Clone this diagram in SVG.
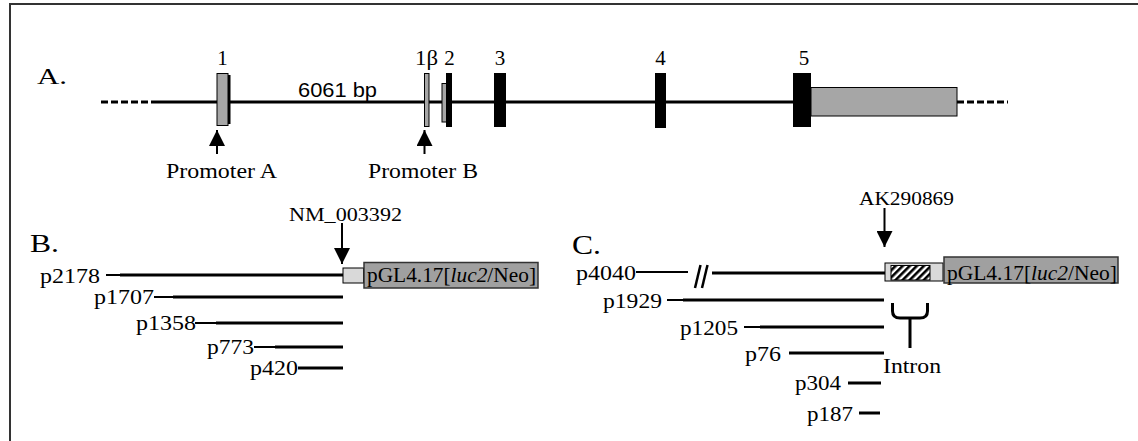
<svg xmlns="http://www.w3.org/2000/svg" width="1138" height="441" viewBox="0 0 1138 441">
<defs>
<style>
.t{font-family:"Liberation Serif","Times New Roman",serif;fill:#000}
.s{font-family:"Liberation Sans",Arial,sans-serif;fill:#000}
.ln{stroke:#000;stroke-width:3;fill:none}
.thin{stroke:#000;stroke-width:2;fill:none}
.blk{fill:#000}
.gry{fill:#a6a6a6;stroke:#000;stroke-width:1}
.lgt{fill:#d9d9d9;stroke:#000;stroke-width:1}
.vec{fill:#a0a0a0;stroke:#333;stroke-width:1.5}
</style>
<marker id="ah" viewBox="0 0 10 10" refX="10" refY="5" markerWidth="16" markerHeight="16" markerUnits="userSpaceOnUse" orient="auto">
<path d="M0,0 L10,5 L0,10 z" fill="#000"/>
</marker>
<pattern id="hatch" patternUnits="userSpaceOnUse" width="5" height="5" patternTransform="rotate(45)">
<rect width="5" height="5" fill="#fff"/>
<rect width="2.6" height="5" fill="#000"/>
</pattern>
</defs>
<rect width="1138" height="441" fill="#fff"/>
<path d="M10,441 V4 H1138" stroke="#333" stroke-width="2" fill="none"/>

<g id="panelA">
<text class="t" x="37" y="84" font-size="23" textLength="30" lengthAdjust="spacingAndGlyphs">A.</text>
<g id="genomic-line">
<line x1="101" y1="102" x2="152" y2="102" class="ln" stroke-dasharray="7,3"/>
<line x1="152" y1="102" x2="793" y2="102" class="ln"/>
<line x1="957" y1="102" x2="1008" y2="102" class="ln" stroke-dasharray="7,3"/>
</g>
<text class="s" x="298" y="96.5" font-size="21" textLength="79" lengthAdjust="spacingAndGlyphs">6061 bp</text>
<g id="exon1">
<rect x="217" y="73.5" width="11" height="52" class="gry"/>
<rect x="228" y="75" width="2.5" height="49" class="blk"/>
<text class="t" x="222.5" y="65" font-size="21" text-anchor="middle">1</text>
</g>
<g id="exon1b">
<rect x="424.5" y="73.5" width="4.5" height="53" class="gry"/>
<text class="t" x="415" y="65" font-size="21" textLength="23" lengthAdjust="spacingAndGlyphs">1β</text>
</g>
<g id="exon2">
<rect x="442" y="83.5" width="5" height="38.5" class="gry"/>
<rect x="446" y="73" width="6" height="54" class="blk"/>
<text class="t" x="449.5" y="65" font-size="21" text-anchor="middle">2</text>
</g>
<g id="exon3">
<rect x="494" y="73" width="12" height="54" class="blk"/>
<text class="t" x="500" y="65" font-size="21" text-anchor="middle">3</text>
</g>
<g id="exon4">
<rect x="655" y="73" width="11" height="55" class="blk"/>
<text class="t" x="660.5" y="65" font-size="21" text-anchor="middle">4</text>
</g>
<g id="exon5">
<rect x="811" y="87.5" width="146" height="28.5" class="gry"/>
<rect x="793" y="73" width="18" height="54" class="blk"/>
<text class="t" x="804" y="65" font-size="21" text-anchor="middle">5</text>
</g>
<g id="promoterA">
<line x1="217" y1="154" x2="217" y2="130" class="thin" marker-end="url(#ah)"/>
<text class="t" x="166" y="178" font-size="22" textLength="111" lengthAdjust="spacingAndGlyphs">Promoter A</text>
</g>
<g id="promoterB">
<line x1="424.5" y1="154" x2="424.5" y2="130" class="thin" marker-end="url(#ah)"/>
<text class="t" x="368" y="178" font-size="22" textLength="110" lengthAdjust="spacingAndGlyphs">Promoter B</text>
</g>
</g>

<g id="panelB">
<text class="t" x="30" y="252" font-size="26" textLength="29" lengthAdjust="spacingAndGlyphs">B.</text>
<g id="NM_003392">
<text class="t" x="289" y="221" font-size="19" textLength="113" lengthAdjust="spacingAndGlyphs">NM_003392</text>
<line x1="342" y1="223" x2="342" y2="264" class="thin" marker-end="url(#ah)"/>
</g>
<g id="vectorB">
<rect x="343" y="268" width="20.5" height="15" class="lgt"/>
<rect x="364" y="262.5" width="174" height="25.5" class="vec"/>
<text class="t" x="367" y="282" font-size="20" textLength="169" lengthAdjust="spacingAndGlyphs">pGL4.17[<tspan font-style="italic">luc2</tspan>/Neo]</text>
</g>
<g id="p2178">
<text class="t" x="40" y="283" font-size="22" textLength="60" lengthAdjust="spacingAndGlyphs">p2178</text>
<line x1="106" y1="275" x2="121" y2="275" class="thin"/>
<line x1="120" y1="275" x2="343" y2="275" class="ln"/>
</g>
<g id="p1707">
<text class="t" x="94" y="304" font-size="22" textLength="60" lengthAdjust="spacingAndGlyphs">p1707</text>
<line x1="154" y1="297" x2="174" y2="297" class="thin"/>
<line x1="173" y1="297" x2="343" y2="297" class="ln"/>
</g>
<g id="p1358">
<text class="t" x="136" y="330" font-size="22" textLength="60" lengthAdjust="spacingAndGlyphs">p1358</text>
<line x1="195" y1="323" x2="217" y2="323" class="thin"/>
<line x1="216" y1="323" x2="343" y2="323" class="ln"/>
</g>
<g id="p773">
<text class="t" x="207" y="354" font-size="22" textLength="47" lengthAdjust="spacingAndGlyphs">p773</text>
<line x1="254" y1="347" x2="276" y2="347" class="thin"/>
<line x1="275" y1="347" x2="343" y2="347" class="ln"/>
</g>
<g id="p420">
<text class="t" x="250" y="375" font-size="22" textLength="48" lengthAdjust="spacingAndGlyphs">p420</text>
<line x1="298" y1="368" x2="343" y2="368" class="ln"/>
</g>
</g>

<g id="panelC">
<text class="t" x="572" y="254" font-size="27" textLength="29" lengthAdjust="spacingAndGlyphs">C.</text>
<g id="AK290869">
<text class="t" x="859" y="205" font-size="19" textLength="95" lengthAdjust="spacingAndGlyphs">AK290869</text>
<line x1="884.5" y1="208" x2="884.5" y2="247" class="thin" marker-end="url(#ah)"/>
</g>
<g id="vectorC">
<rect x="885" y="263" width="58" height="18" class="lgt"/>
<rect x="891" y="265.5" width="39" height="14.5" fill="url(#hatch)" stroke="#000" stroke-width="1"/>
<rect x="944" y="257" width="174" height="26" class="vec"/>
<text class="t" x="947" y="279.5" font-size="20" textLength="170" lengthAdjust="spacingAndGlyphs">pGL4.17[<tspan font-style="italic">luc2</tspan>/Neo]</text>
</g>
<g id="p4040">
<text class="t" x="576" y="280" font-size="22" textLength="60" lengthAdjust="spacingAndGlyphs">p4040</text>
<line x1="636" y1="272" x2="688" y2="272" class="thin"/>
<line x1="695" y1="288" x2="700.5" y2="265" stroke="#000" stroke-width="2.5"/>
<line x1="702" y1="288" x2="707.5" y2="265" stroke="#000" stroke-width="2.5"/>
<line x1="712" y1="273" x2="885" y2="273" class="ln"/>
</g>
<g id="p1929">
<text class="t" x="603" y="308" font-size="22" textLength="59" lengthAdjust="spacingAndGlyphs">p1929</text>
<line x1="667" y1="300" x2="684" y2="300" class="thin"/>
<line x1="683" y1="300" x2="884" y2="300" class="ln"/>
</g>
<g id="p1205">
<text class="t" x="680" y="335" font-size="22" textLength="58" lengthAdjust="spacingAndGlyphs">p1205</text>
<line x1="744" y1="327" x2="761" y2="327" class="thin"/>
<line x1="760" y1="327" x2="884" y2="327" class="ln"/>
</g>
<g id="p76">
<text class="t" x="745" y="361" font-size="22" textLength="36" lengthAdjust="spacingAndGlyphs">p76</text>
<line x1="789" y1="353" x2="884" y2="353" class="ln"/>
</g>
<g id="p304">
<text class="t" x="795" y="390" font-size="22" textLength="46" lengthAdjust="spacingAndGlyphs">p304</text>
<line x1="848" y1="383" x2="881" y2="383" class="ln"/>
</g>
<g id="p187">
<text class="t" x="807" y="421" font-size="22" textLength="46" lengthAdjust="spacingAndGlyphs">p187</text>
<line x1="859" y1="413" x2="880" y2="413" class="ln"/>
</g>
<g id="intron">
<path d="M892.5,303 V311 Q892.5,318 900,318 H910 M927.5,303 V311 Q927.5,318 920,318 H910 V348" class="ln" stroke-linejoin="round"/>
<text class="t" x="883" y="372.5" font-size="22" textLength="58" lengthAdjust="spacingAndGlyphs">Intron</text>
</g>
</g>
</svg>
